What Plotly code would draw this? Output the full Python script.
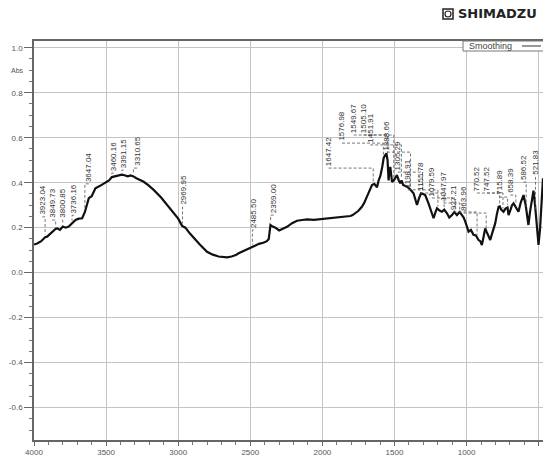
import numpy as np
import plotly.graph_objects as go

# FTIR spectrum (smoothed), wavenumber in cm-1 and absorbance
wavenumber = [
    4000, 3978, 3950, 3923, 3909, 3880, 3860, 3849, 3839, 3820, 3800, 3780, 3759, 3736,
    3712, 3690, 3666, 3647, 3630, 3620, 3600, 3574, 3545, 3516, 3480, 3460, 3447, 3420,
    3391, 3378, 3350, 3330, 3310, 3290, 3270, 3239, 3210, 3170, 3120, 3077, 3030, 3000,
    2973, 2950, 2920, 2892, 2850, 2800, 2760, 2720, 2690, 2661, 2630, 2600, 2581, 2550,
    2520, 2499, 2470, 2440, 2410, 2385, 2372, 2365, 2360, 2345, 2326, 2300, 2292, 2270,
    2245, 2210, 2176, 2140, 2106, 2060, 2019, 1991, 1950, 1925, 1899, 1860, 1829, 1806,
    1790, 1772, 1750, 1726, 1710, 1691, 1675, 1656, 1640, 1621, 1610, 1598, 1585, 1575,
    1564, 1556, 1548, 1541, 1535, 1529, 1517, 1505, 1495, 1483, 1470, 1460, 1451, 1440,
    1413, 1390, 1368, 1355, 1344, 1330, 1316, 1300, 1287, 1264, 1245, 1229, 1215, 1205,
    1185, 1171, 1155, 1136, 1120, 1101, 1085, 1067, 1048, 1032, 1020, 1009, 995, 986,
    970, 952, 935, 917, 905, 894, 882, 871, 860, 848, 836, 820, 801, 790,
    778, 770, 760, 744, 730, 716, 709, 695, 685, 674, 658, 650, 640, 625,
    605, 590, 578, 571, 560, 545, 536, 525, 512, 501, 490, 480, 474, 470,
]
absorbance = [
    0.125, 0.130, 0.140, 0.158, 0.160, 0.178, 0.190, 0.195, 0.197, 0.190, 0.205, 0.200, 0.205, 0.220,
    0.234, 0.240, 0.242, 0.270, 0.310, 0.331, 0.340, 0.375, 0.385, 0.397, 0.410, 0.425, 0.427, 0.432,
    0.436, 0.434, 0.428, 0.432, 0.428, 0.420, 0.415, 0.404, 0.390, 0.368, 0.335, 0.301, 0.265, 0.240,
    0.208, 0.200, 0.175, 0.153, 0.125, 0.093, 0.080, 0.072, 0.070, 0.068, 0.072, 0.078, 0.086, 0.095,
    0.104, 0.108, 0.118, 0.128, 0.133, 0.140, 0.150, 0.190, 0.212, 0.205, 0.200, 0.188, 0.190, 0.198,
    0.204, 0.220, 0.231, 0.234, 0.237, 0.235, 0.238, 0.237, 0.240, 0.243, 0.246, 0.248, 0.250, 0.252,
    0.256, 0.264, 0.275, 0.293, 0.310, 0.338, 0.360, 0.390, 0.395, 0.380, 0.410, 0.430, 0.470, 0.510,
    0.523, 0.530, 0.500, 0.410, 0.450, 0.470, 0.404, 0.410, 0.420, 0.434, 0.410, 0.397, 0.410, 0.390,
    0.382, 0.370, 0.353, 0.330, 0.301, 0.330, 0.353, 0.350, 0.345, 0.308, 0.270, 0.242, 0.270, 0.286,
    0.275, 0.271, 0.280, 0.264, 0.245, 0.256, 0.270, 0.256, 0.270, 0.256, 0.245, 0.227, 0.205, 0.182,
    0.190, 0.168, 0.165, 0.145, 0.140, 0.123, 0.160, 0.197, 0.180, 0.160, 0.145, 0.180, 0.220, 0.260,
    0.293, 0.295, 0.280, 0.271, 0.285, 0.290, 0.256, 0.280, 0.300, 0.308, 0.290, 0.280, 0.271, 0.310,
    0.345, 0.300, 0.230, 0.212, 0.270, 0.340, 0.365, 0.300, 0.180, 0.123, 0.200, 0.330, 0.397, 0.420,
]

# Picked peaks and where their labels sit (wavenumber of label, absorbance at label foot)
peaks = [3923.04, 3849.73, 3800.85, 3736.16, 3647.04, 3460.16, 3391.15, 3310.65, 2969.95,
         2485.50, 2359.00, 1647.42, 1576.98, 1549.67, 1505.10, 1451.91, 1388.66, 1305.29,
         1198.91, 1155.78, 1079.59, 1047.97, 927.21, 863.96, 770.52, 747.52, 715.89,
         658.39, 586.52, 521.83]
label_x = [3943, 3874, 3805, 3724, 3620, 3447, 3378, 3285, 2966,
           2477, 2338, 1957, 1864, 1783, 1714, 1668, 1552, 1477,
           1408, 1321, 1240, 1160, 1090, 1021, 928, 859, 774,
           697, 605, 524]
label_y = [0.248, 0.234, 0.234, 0.255, 0.395, 0.443, 0.456, 0.465, 0.292,
           0.190, 0.256, 0.465, 0.576, 0.612, 0.612, 0.568, 0.536, 0.447,
           0.368, 0.354, 0.332, 0.310, 0.270, 0.265, 0.354, 0.354, 0.336,
           0.345, 0.403, 0.425]

x_ticks = [4000, 3500, 3000, 2500, 2000, 1500, 1000, 500]
y_ticks = [1.0, 0.8, 0.6, 0.4, 0.2, 0.0, -0.2, -0.4, -0.6]

W, H = 543, 459
L, R, T, B = 34, 0, 41, 19
plot_w = W - L - R
plot_h = H - T - B


def px(xp):
    return (xp - L) / plot_w


def py(yp):
    return (H - B - yp) / plot_h


fig = go.Figure()
fig.add_trace(go.Scatter(
    x=wavenumber, y=absorbance, mode="lines",
    line=dict(color="#111111", width=2.2), showlegend=False, hoverinfo="skip",
))

label_font = dict(family="Liberation Sans, Arial, sans-serif", size=8, color="#333333")
wn_sorted = np.array(wavenumber[::-1], dtype=float)
ab_sorted = np.array(absorbance[::-1], dtype=float)

annotations = []
shapes = []
for p, lx, ly in zip(peaks, label_x, label_y):
    annotations.append(dict(
        x=lx, y=ly, xref="x", yref="y", text=f"{p:.2f}", textangle=-90,
        xanchor="center", yanchor="bottom", showarrow=False, font=label_font,
    ))
    top = float(np.interp(p, wn_sorted, ab_sorted)) + 0.012
    shapes.append(dict(
        type="path", xref="x", yref="y",
        path=f"M {lx},{ly} L {p},{ly} L {p},{top}",
        line=dict(color="#555555", width=0.8, dash="3px,2px"),
    ))

# axis title
annotations.append(dict(
    x=px(17), y=py(70), xref="paper", yref="paper", text="Abs", showarrow=False,
    xanchor="center", yanchor="middle",
    font=dict(family="Liberation Sans, Arial, sans-serif", size=7, color="#555555"),
))

# legend entry
shapes.append(dict(type="rect", xref="paper", yref="paper",
                   x0=px(463), x1=px(600), y0=py(51), y1=py(41),
                   line=dict(color="#777777", width=1), fillcolor="white"))
shapes.append(dict(type="line", xref="paper", yref="paper",
                   x0=px(522), x1=px(541), y0=py(46), y1=py(46),
                   line=dict(color="#555555", width=1.2)))
annotations.append(dict(
    x=px(467), y=py(46), xref="paper", yref="paper", text="Smoothing", showarrow=False,
    xanchor="left", yanchor="middle",
    font=dict(family="Liberation Sans, Arial, sans-serif", size=9, color="#444444"),
))

# maker logo
shapes.append(dict(type="rect", xref="paper", yref="paper",
                   x0=px(443), x1=px(453), y0=py(19), y1=py(9),
                   line=dict(color="#222222", width=1.5), fillcolor="white"))
shapes.append(dict(type="circle", xref="paper", yref="paper",
                   x0=px(445), x1=px(451), y0=py(17), y1=py(11),
                   line=dict(color="#222222", width=1.2)))
annotations.append(dict(
    x=px(456), y=py(14), xref="paper", yref="paper", text="<b>SHIMADZU</b>",
    showarrow=False, xanchor="left", yanchor="middle",
    font=dict(family="DejaVu Sans, sans-serif", size=13, color="#222222"),
))

fig.update_layout(
    width=W, height=H, margin=dict(l=L, r=R, t=T, b=B, pad=0),
    paper_bgcolor="white", plot_bgcolor="white",
    annotations=annotations, shapes=shapes, showlegend=False,
    xaxis=dict(
        range=[4000, 470], tickvals=x_ticks, ticktext=[str(v) for v in x_ticks],
        showgrid=True, gridcolor="#c4c4c4", gridwidth=1,
        showline=True, linecolor="#666666", linewidth=1.5, mirror=True,
        ticks="outside", ticklen=4, tickcolor="#666666",
        minor=dict(dtick=100, tick0=0, ticks="outside", ticklen=3, tickcolor="#777777", showgrid=False),
        tickfont=dict(family="Liberation Sans, Arial, sans-serif", size=8, color="#555555"),
        zeroline=False,
    ),
    yaxis=dict(
        range=[-0.744, 1.03], tickvals=y_ticks, ticktext=[f"{v:.1f}" for v in y_ticks],
        showgrid=True, gridcolor="#c4c4c4", gridwidth=1,
        showline=True, linecolor="#666666", linewidth=1.5, mirror=False,
        ticks="outside", ticklen=8, tickcolor="#666666",
        minor=dict(dtick=0.05, tick0=0, ticks="outside", ticklen=3, tickcolor="#777777", showgrid=False),
        tickfont=dict(family="Liberation Sans, Arial, sans-serif", size=8, color="#555555"),
        zeroline=False,
    ),
)

fig.write_html("out.html")
